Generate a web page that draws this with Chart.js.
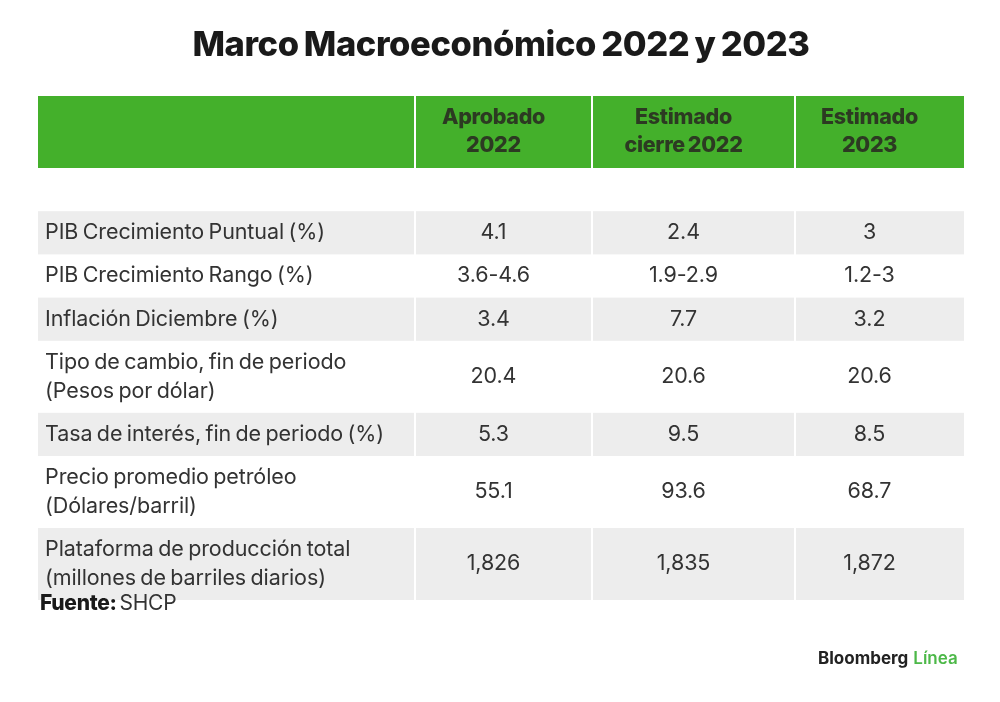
<!DOCTYPE html>
<html>
<head>
<meta charset="utf-8">
<script src="https://cdn.jsdelivr.net/npm/chart.js@4.4.1/dist/chart.umd.min.js"></script>
<style>
  html, body { margin: 0; padding: 0; background: #ffffff; }
  #wrap { width: 1000px; height: 702px; position: relative; }
</style>
</head>
<body>
<div id="wrap"><canvas id="c" width="1000" height="702"></canvas></div>
<script>
// ---- DATA ----
const titleText = "Marco Macroeconómico 2022 y 2023";
const columnHeaders = [["Aprobado", "2022"], ["Estimado", "cierre 2022"], ["Estimado", "2023"]];
const rowLabels = [
  ["PIB Crecimiento Puntual (%)"],
  ["PIB Crecimiento Rango (%)"],
  ["Inflación Diciembre (%)"],
  ["Tipo de cambio, fin de periodo", "(Pesos por dólar)"],
  ["Tasa de interés, fin de periodo (%)"],
  ["Precio promedio petróleo", "(Dólares/barril)"],
  ["Plataforma de producción total", "(millones de barriles diarios)"]
];
const aprobado2022 = ["4.1", "3.6-4.6", "3.4", "20.4", "5.3", "55.1", "1,826"];
const estimadoCierre2022 = ["2.4", "1.9-2.9", "7.7", "20.6", "9.5", "93.6", "1,835"];
const estimado2023 = ["3", "1.2-3", "3.2", "20.6", "8.5", "68.7", "1,872"];
const sourceLabel = "Fuente:";
const sourceText = "SHCP";
const brandA = "Bloomberg";
const brandB = "Línea";

// ---- LAYOUT (not data) ----
const colWeights = [377, 177, 203, 169];      // relative column widths
const lineUnits = n => (n === 1 ? 3 : 5);    // row height units by line count
const GREEN = "#44b02b";
const GRAY = "#ededed";
const TEXT = "#333333";

const colEdges = [0];
colWeights.forEach(w => colEdges.push(colEdges[colEdges.length - 1] + w));
const rowSpans = [];
let acc = 0;
const headerSpan = [acc, acc + lineUnits(2)]; acc += lineUnits(2);
acc += lineUnits(1); // spacer
rowLabels.forEach(l => { rowSpans.push([acc, acc + lineUnits(l.length)]); acc += lineUnits(l.length); });
const totalUnits = acc;

const seriesCols = [aprobado2022, estimadoCierre2022, estimado2023];
const datasets = seriesCols.map((vals, ci) => ({
  label: columnHeaders[ci].join(" "),
  data: vals.map((v, ri) => ({
    x: (colEdges[ci + 1] + colEdges[ci + 2]) / 2,
    y: (rowSpans[ri][0] + rowSpans[ri][1]) / 2,
    v: v
  })),
  pointRadius: 0,
  pointHoverRadius: 0,
  showLine: false
}));

const tablePlugin = {
  id: "tablePlugin",
  beforeDatasetsDraw(chart) {
    const ctx = chart.ctx, xs = chart.scales.x, ys = chart.scales.y;
    ctx.save();
    const hy0 = ys.getPixelForValue(headerSpan[0]), hy1 = ys.getPixelForValue(headerSpan[1]);
    for (let c = 0; c < colWeights.length; c++) {
      const x0 = xs.getPixelForValue(colEdges[c]) + (c > 0 ? 1 : 0);
      const x1 = xs.getPixelForValue(colEdges[c + 1]) - (c < colWeights.length - 1 ? 1 : 0);
      ctx.fillStyle = GREEN;
      ctx.fillRect(x0, hy0, x1 - x0, hy1 - hy0);
    }
    rowSpans.forEach((sp, r) => {
      if (r % 2 !== 0) return;
      const y0 = ys.getPixelForValue(sp[0]), y1 = ys.getPixelForValue(sp[1]);
      for (let c = 0; c < colWeights.length; c++) {
        const x0 = xs.getPixelForValue(colEdges[c]) + (c > 0 ? 1 : 0);
        const x1 = xs.getPixelForValue(colEdges[c + 1]) - (c < colWeights.length - 1 ? 1 : 0);
        ctx.fillStyle = GRAY;
        ctx.fillRect(x0, y0, x1 - x0, y1 - y0);
      }
    });
    ctx.restore();
  },
  afterDatasetsDraw(chart) {
    const ctx = chart.ctx, xs = chart.scales.x, ys = chart.scales.y;
    ctx.save();
    ctx.textBaseline = "middle";
    // header text
    const hyc = ys.getPixelForValue((headerSpan[0] + headerSpan[1]) / 2);
    ctx.fillStyle = "#2c3a22";
    ctx.font = "800 21.5px Inter";
    ctx.letterSpacing = "-0.3px";
    ctx.wordSpacing = "-1.5px";
    ctx.textAlign = "center";
    columnHeaders.forEach((lines, ci) => {
      const xc = xs.getPixelForValue((colEdges[ci + 1] + colEdges[ci + 2]) / 2) - 10;
      lines.forEach((t, li) => ctx.fillText(t, xc, hyc + (li - (lines.length - 1) / 2) * 28));
    });
    // row labels
    ctx.fillStyle = TEXT;
    ctx.font = "400 21.5px Inter";
    ctx.letterSpacing = "-0.1px";
    ctx.wordSpacing = "-1.5px";
    ctx.textAlign = "left";
    rowLabels.forEach((lines, ri) => {
      const yc = ys.getPixelForValue((rowSpans[ri][0] + rowSpans[ri][1]) / 2);
      const x = xs.getPixelForValue(colEdges[0]) + 7;
      lines.forEach((t, li) => ctx.fillText(t, x, yc + (li - (lines.length - 1) / 2) * 29));
    });
    // values at point positions
    ctx.textAlign = "center";
    chart.data.datasets.forEach((ds, di) => {
      const meta = chart.getDatasetMeta(di);
      meta.data.forEach((pt, i) => {
        ctx.fillText(ds.data[i].v, pt.x - 10, pt.y);
      });
    });
    // title
    ctx.fillStyle = "#1a1a1a";
    ctx.font = "800 34.5px Inter";
    ctx.letterSpacing = "-0.4px";
    ctx.wordSpacing = "-2px";
    ctx.textAlign = "center";
    ctx.fillText(titleText, 501, 46);
    // source
    ctx.letterSpacing = "-0.3px";
    ctx.wordSpacing = "0px";
    ctx.textAlign = "left";
    ctx.fillStyle = "#1a1a1a";
    ctx.font = "800 21px Inter";
    ctx.fillText(sourceLabel, 40, 604);
    const w = ctx.measureText(sourceLabel).width;
    ctx.font = "400 21px Inter";
    ctx.fillStyle = "#333333";
    ctx.fillText(sourceText, 40 + w + 3, 604);
    // brand
    ctx.font = "700 17px Inter";
    ctx.letterSpacing = "0px";
    ctx.fillStyle = "#222222";
    ctx.fillText(brandA, 818, 659);
    const wb = ctx.measureText(brandA).width;
    ctx.fillStyle = "#4cb848";
    ctx.font = "600 17px Inter";
    ctx.fillText(brandB, 818 + wb + 5, 659);
    ctx.restore();
  }
};

new Chart(document.getElementById("c"), {
  type: "scatter",
  data: { datasets },
  options: {
    responsive: false,
    animation: false,
    events: [],
    layout: { padding: { left: 38, right: 36, top: 96, bottom: 102 } },
    plugins: { legend: { display: false }, tooltip: { enabled: false }, title: { display: false } },
    scales: {
      x: { type: "linear", display: false, min: 0, max: colEdges[colEdges.length - 1] },
      y: { type: "linear", display: false, min: 0, max: totalUnits, reverse: true }
    }
  },
  plugins: [tablePlugin]
});
</script>
</body>
</html>
